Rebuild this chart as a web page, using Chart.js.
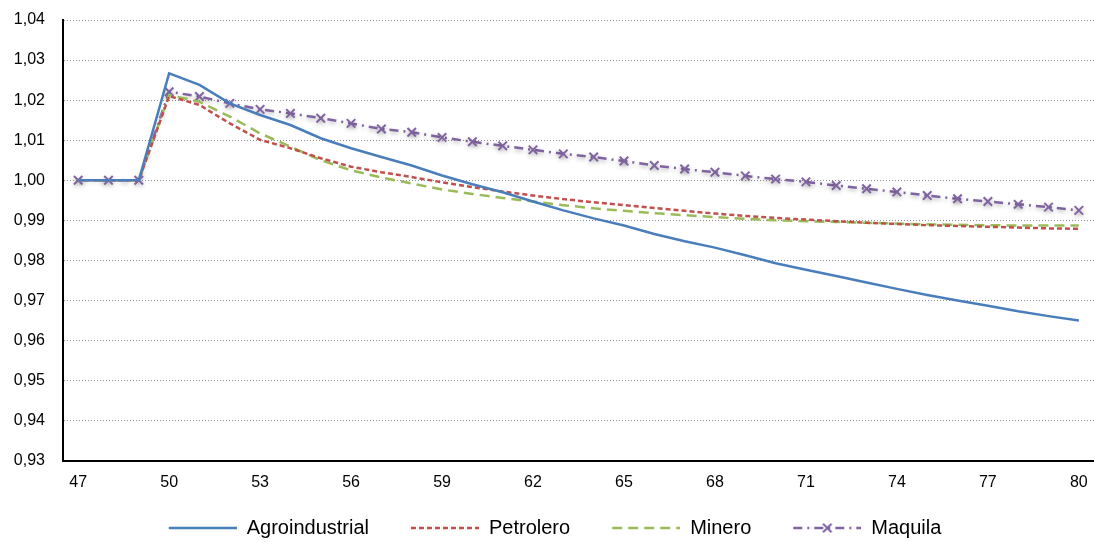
<!DOCTYPE html>
<html>
<head>
    <meta charset="UTF-8">
    <title>Índice por sector</title>
    <style type="text/css">
    body{
        margin: 0;
        background: #fff;
    }
    #wrap{
        width: 1094px;
        height: 542px;
    }
    </style>
</head>
<body>
	<div id="wrap"><canvas id="myChart"></canvas></div>
</body>

<script src="https://cdn.jsdelivr.net/npm/chart.js@4.4.0/dist/chart.umd.min.js"></script>

<script type="text/javascript">

	var periodos = [47,48,49,50,51,52,53,54,55,56,57,58,59,60,61,62,63,64,65,66,67,68,69,70,71,72,73,74,75,76,77,78,79,80]

	var agroindustrial = [1.0000,1.0000,1.0000,1.0267,1.0238,1.0192,1.0163,1.0138,1.0105,1.0080,1.0058,1.0037,1.0012,0.9990,0.9970,0.9947,0.9925,0.9905,0.9887,0.9866,0.9848,0.9832,0.9813,0.9793,0.9777,0.9761,0.9745,0.9729,0.9714,0.9700,0.9687,0.9673,0.9661,0.9650]
	var petrolero = [1.0000,1.0000,1.0000,1.0210,1.0188,1.0142,1.0101,1.0080,1.0055,1.0034,1.0020,1.0008,0.9995,0.9983,0.9972,0.9962,0.9953,0.9945,0.9938,0.9931,0.9924,0.9917,0.9911,0.9906,0.9902,0.9898,0.9894,0.9891,0.9888,0.9886,0.9884,0.9882,0.9880,0.9879]
	var minero = [1.0000,1.0000,1.0000,1.0213,1.0196,1.0159,1.0117,1.0084,1.0050,1.0025,1.0007,0.9992,0.9977,0.9966,0.9956,0.9947,0.9938,0.9930,0.9924,0.9918,0.9913,0.9908,0.9904,0.9900,0.9898,0.9896,0.9894,0.9892,0.9890,0.9889,0.9888,0.9887,0.9887,0.9887]
	var maquila = [1.0000,1.0000,1.0000,1.0221,1.0209,1.0192,1.0177,1.0167,1.0155,1.0142,1.0128,1.0120,1.0107,1.0096,1.0086,1.0076,1.0066,1.0058,1.0048,1.0037,1.0028,1.0020,1.0011,1.0003,0.9996,0.9987,0.9979,0.9971,0.9962,0.9954,0.9947,0.9940,0.9933,0.9925]

	var yMin = 0.93
	var yMax = 1.04
	var yPaso = 0.01

	var fuente = 'Arial, "Liberation Sans", sans-serif'

	// muestra de línea para la leyenda (con la marca si la serie tiene puntos);
	// el margen izquierdo en blanco separa una entrada de la anterior
	var muestra = function(ds) {
		var c = document.createElement('canvas')
		c.width = 84
		c.height = 14
		var g = c.getContext('2d')
		g.strokeStyle = ds.borderColor
		g.lineWidth = ds.borderWidth
		g.setLineDash(ds.borderDash || [])
		g.beginPath()
		g.moveTo(16, 7)
		g.lineTo(84, 7)
		g.stroke()
		if (ds.pointRadius) {
			var r = ds.pointRadius * 0.707
			g.setLineDash([])
			g.lineWidth = ds.pointBorderWidth
			g.beginPath()
			g.moveTo(50 - r, 7 - r); g.lineTo(50 + r, 7 + r)
			g.moveTo(50 + r, 7 - r); g.lineTo(50 - r, 7 + r)
			g.stroke()
		}
		return c
	}

	// sombra suave bajo la serie de maquila
	var sombra = {
		id: 'sombra',
		beforeDatasetDraw: function(chart, args) {
			if (args.index !== 3) return
			var ctx = chart.ctx
			ctx.save()
			ctx.shadowColor = 'rgba(0,0,0,0.28)'
			ctx.shadowBlur = 4
			ctx.shadowOffsetY = 2
		},
		afterDatasetDraw: function(chart, args) {
			if (args.index === 3) chart.ctx.restore()
		}
	}

	var ctx = document.getElementById('myChart').getContext('2d')

	var chart = new Chart(ctx, {
	    type: 'line',
	    data: {
	        labels: periodos,
	        datasets: [{
	            label: 'Agroindustrial',
	            data: agroindustrial,
	            borderColor: '#4a7ebb',
	            borderWidth: 2.5,
	            pointRadius: 0
	        },{
	            label: 'Petrolero',
	            data: petrolero,
	            borderColor: '#c0504d',
	            borderWidth: 2.5,
	            borderDash: [5, 3],
	            pointRadius: 0
	        },{
	            label: 'Minero',
	            data: minero,
	            borderColor: '#9bbb59',
	            borderWidth: 2.5,
	            borderDash: [10, 6],
	            pointRadius: 0
	        },{
	            label: 'Maquila',
	            data: maquila,
	            borderColor: '#8064a2',
	            borderWidth: 2.5,
	            borderDash: [9, 5, 2, 5],
	            pointStyle: 'crossRot',
	            pointRadius: 6,
	            pointBorderWidth: 2,
	            pointBorderColor: '#8064a2',
	            pointBackgroundColor: '#8064a2'
	        }]
	    },
	    options: {
	        responsive: true,
	        maintainAspectRatio: false,
	        animation: false,
	        layout: {
	            autoPadding: false,
	            padding: { top: 20, right: 0, bottom: -6, left: 0 }
	        },
	        elements: {
	            line: { tension: 0, fill: false }
	        },
	        plugins: {
	            tooltip: { enabled: false },
	            legend: {
	                position: 'bottom',
	                labels: {
	                    color: '#000',
	                    font: { family: fuente, size: 20 },
	                    usePointStyle: true,
	                    pointStyleWidth: 84,
	                    padding: 26,
	                    generateLabels: function(chart) {
	                        var items = Chart.defaults.plugins.legend.labels.generateLabels(chart)
	                        items.forEach(function(it) {
	                            it.pointStyle = muestra(chart.data.datasets[it.datasetIndex])
	                        })
	                        return items
	                    }
	                }
	            }
	        },
	        scales: {
	            x: {
	                offset: true,
	                // el eje llega hasta el borde derecho del lienzo
	                afterFit: function(s) { s.paddingRight = 0; s.paddingLeft = 0 },
	                grid: { display: false, drawTicks: true, tickLength: 12 },
	                border: { display: true, color: '#000', width: 2 },
	                ticks: {
	                    color: '#000',
	                    font: { family: fuente, size: 16 },
	                    padding: 0,
	                    autoSkip: false,
	                    maxRotation: 0,
	                    callback: function(v, i) {
	                        return (i % 3 == 0) ? this.getLabelForValue(v) : ''
	                    }
	                }
	            },
	            y: {
	                min: yMin,
	                max: yMax,
	                afterFit: function(s) { s.width = 63 },
	                grid: { color: '#8c8c8c', lineWidth: 1, drawTicks: true, tickLength: 18, tickWidth: 0 },
	                border: { display: true, color: '#000', width: 2, dash: [1, 2] },
	                ticks: {
	                    stepSize: yPaso,
	                    color: '#000',
	                    font: { family: fuente, size: 16 },
	                    padding: 0,
	                    callback: function(v) {
	                        return v.toFixed(2).replace('.', ',')
	                    }
	                }
	            }
	        }
	    },
	    plugins: [sombra]
	})
</script>
</html>
